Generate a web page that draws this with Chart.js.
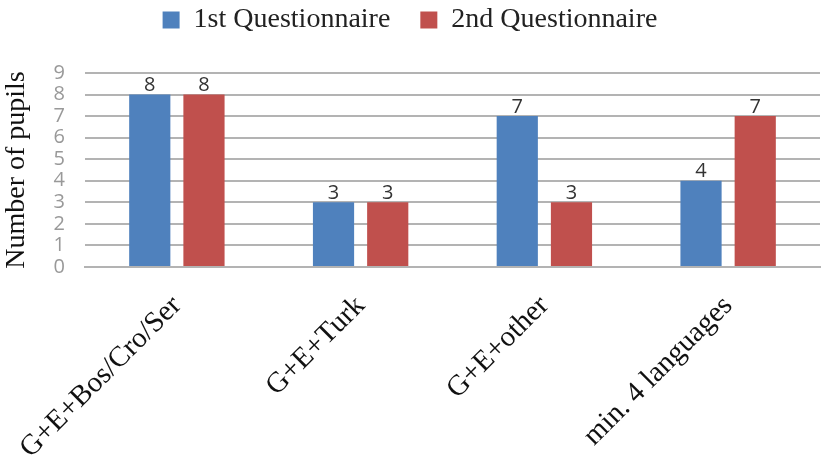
<!DOCTYPE html>
<html>
<head>
<meta charset="utf-8">
<script src="https://cdn.jsdelivr.net/npm/chart.js@4.4.0/dist/chart.umd.min.js"></script>
<style>
  html, body { margin: 0; padding: 0; background: #fff; }
  #wrap { width: 827px; height: 464px; }
</style>
</head>
<body>
<div id="wrap"><canvas id="pupilsChart" width="827" height="464"></canvas></div>
<script>
const categories = ["G+E+Bos/Cro/Ser", "G+E+Turk", "G+E+other", "min. 4 languages"];
const firstQuestionnaire = [8, 3, 7, 4];
const secondQuestionnaire = [8, 3, 3, 7];
const yTicks = [0, 1, 2, 3, 4, 5, 6, 7, 8, 9];

// draws the value above each bar
const valueLabels = {
  id: "valueLabels",
  afterDatasetsDraw(chart) {
    const ctx = chart.ctx;
    ctx.save();
    ctx.font = "20px 'Open Sans', sans-serif";
    ctx.fillStyle = "#333333";
    ctx.textAlign = "center";
    ctx.textBaseline = "bottom";
    chart.data.datasets.forEach((ds, i) => {
      chart.getDatasetMeta(i).data.forEach((bar, j) => {
        ctx.fillText(ds.data[j], bar.x, bar.y + 1);
      });
    });
    ctx.restore();
  }
};

// leave more room under the legend
const legendGap = {
  id: "legendGap",
  afterInit(chart) {
    const lg = chart.legend;
    const fit = lg.fit.bind(lg);
    lg.fit = function () {
      fit();
      this.height += 29;
    };
  }
};

const ctx = document.getElementById("pupilsChart").getContext("2d");
new Chart(ctx, {
  type: "bar",
  data: {
    labels: categories,
    datasets: [
      {
        label: "1st Questionnaire",
        data: firstQuestionnaire,
        backgroundColor: "#4F81BD",
        categoryPercentage: 0.59,
        barPercentage: 0.76
      },
      {
        label: "2nd Questionnaire",
        data: secondQuestionnaire,
        backgroundColor: "#C0504D",
        categoryPercentage: 0.59,
        barPercentage: 0.76
      }
    ]
  },
  options: {
    responsive: false,
    animation: false,
    layout: { padding: { left: 0, right: 7, top: -24, bottom: 0 } },
    plugins: {
      legend: {
        position: "top",
        labels: {
          font: { family: "'Liberation Serif', serif", size: 28 },
          color: "#222222",
          boxWidth: 17,
          boxHeight: 17,
          padding: 30
        }
      },
      tooltip: { enabled: false }
    },
    scales: {
      x: {
        grid: { display: false },
        border: { color: "#b3b3b3", width: 2 },
        ticks: {
          font: { family: "'Liberation Serif', serif", size: 29 },
          color: "#111111",
          maxRotation: 45,
          minRotation: 45,
          padding: 14
        },
        afterFit(scale) { scale.height = 197; }
      },
      y: {
        min: 0,
        max: 9,
        afterBuildTicks(scale) { scale.ticks = yTicks.map(v => ({ value: v })); },
        grid: { color: "#b3b3b3", lineWidth: 2, drawTicks: false },
        border: { display: false },
        ticks: {
          autoSkip: false,
          font: { family: "'Open Sans', sans-serif", size: 20 },
          color: "#999999",
          padding: 20
        },
        title: {
          display: true,
          text: "Number of pupils",
          font: { family: "'Liberation Serif', serif", size: 28 },
          color: "#111111",
          padding: { top: 0, bottom: 4 }
        },
        afterFit(scale) { scale.width = 85; }
      }
    }
  },
  plugins: [valueLabels, legendGap]
});
</script>
</body>
</html>
